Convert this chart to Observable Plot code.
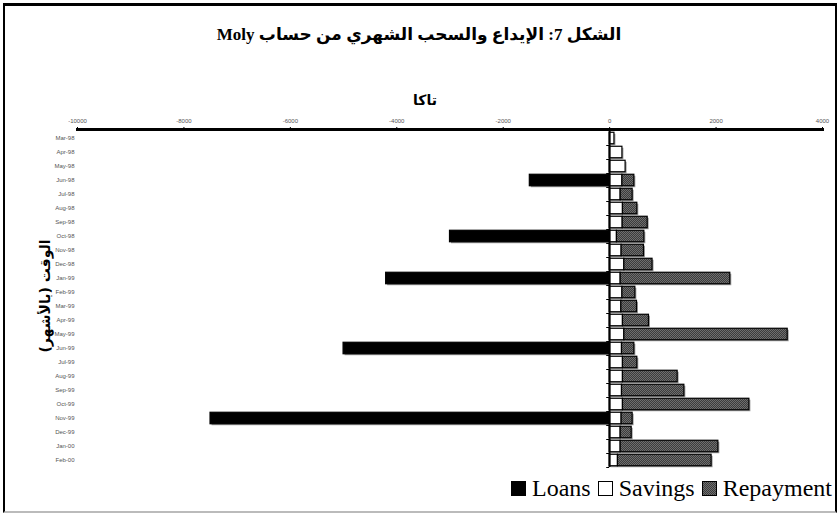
<!DOCTYPE html>
<html><head><meta charset="utf-8">
<script src="https://cdn.jsdelivr.net/npm/d3@7"></script>
<script src="https://cdn.jsdelivr.net/npm/@observablehq/plot@0.6"></script>
<style>
body{margin:0;background:#fff;}
#wrap{position:relative;width:838px;height:513px;overflow:hidden;background:#fff;}
#border{position:absolute;left:3px;top:3px;width:830px;height:505px;border:2px solid #000;border-top:3px solid #000;border-bottom:2px solid #bbb;box-sizing:content-box;}
#title{position:absolute;left:0;width:838px;top:24px;text-align:center;font:bold 17px "Liberation Serif","DejaVu Sans",serif;color:#000;}
#xlab{position:absolute;left:0;width:850px;top:92px;text-align:center;font:bold 14px "DejaVu Sans",sans-serif;color:#000;}
#ylab{position:absolute;left:45px;top:296px;transform:translate(-50%,-50%) rotate(-90deg);white-space:nowrap;font:bold 14px "DejaVu Sans",sans-serif;color:#000;}
#legend{position:absolute;right:6px;top:475px;font:24px "Liberation Serif",serif;color:#000;white-space:nowrap;}
#legend span.sw{display:inline-block;width:15px;height:15px;border:1px solid #000;box-sizing:border-box;vertical-align:0px;margin-right:6px;margin-left:7px;}
#chart{position:absolute;left:0;top:0;}
</style></head><body>
<div id="wrap">
  <div id="chart"></div>
  <div id="border"></div>
  <div id="title" dir="rtl">الشكل 7: الإيداع والسحب الشهري من حساب Moly</div>
  <div id="xlab" dir="rtl">تاكا</div>
  <div id="ylab" dir="rtl">الوقت (بالأشهر)</div>
  <div id="legend"></div>
</div>
<script>
const months = ["Mar-98","Apr-98","May-98","Jun-98","Jul-98","Aug-98","Sep-98","Oct-98","Nov-98","Dec-98","Jan-99","Feb-99",
  "Mar-99","Apr-99","May-99","Jun-99","Jul-99","Aug-99","Sep-99","Oct-99","Nov-99","Dec-99","Jan-00","Feb-00"];
const loans = [0,0,0,-1500,0,0,0,-3000,0,0,-4200,0,0,0,0,-5000,0,0,0,0,-7500,0,0,0];
const savings = [90,240,300,240,207,250,245,137,225,276,207,240,220,250,276,232,250,250,232,250,225,207,207,156];
const repayment = [0,0,0,224,225,270,470,515,420,530,2060,243,294,489,3070,232,270,1028,1172,2376,207,207,1836,1760];
const xTicks = [-10000,-8000,-6000,-4000,-2000,0,2000,4000];
const seriesNames = ["Loans","Savings","Repayment"];
const seriesFills = ["#000000","#ffffff","url(#repPat)"];

const data = [];
months.forEach((m,i)=>{
  if (savings[i]) data.push({month:m, series:"Savings", value:savings[i]});
  if (repayment[i]) data.push({month:m, series:"Repayment", value:repayment[i]});
  if (loans[i]) data.push({month:m, series:"Loans", value:loans[i]});
});

const chart = Plot.plot({
  width: 838,
  height: 513,
  marginLeft: 77,
  marginRight: 16,
  marginTop: 129,
  marginBottom: 46,
  style: {background:"transparent"},
  x: {domain:[-10000,4000], axis:null},
  y: {domain: months, paddingInner:0.18, paddingOuter:0.09, insetTop:2, round:false, axis:null},
  color: {domain: seriesNames, range: seriesFills},
  marks: [
    Plot.barX(data, {x:"value", y:"month", fill:"#9a9a9a", dx:1.5, dy:1.5}),
    Plot.barX(data, {x:"value", y:"month", fill:"series", stroke:"#000", strokeWidth:1.2}),
    Plot.ruleX([0], {stroke:"#000", strokeWidth:2}),
    Plot.ruleY(months, {y:d=>d, x1:-55, x2:0, dy:7, stroke:"#000", strokeWidth:1}),
    Plot.frame({anchor:"top", stroke:"#000", strokeWidth:3}),
    Plot.axisX({anchor:"top", ticks:xTicks, tickFormat:d=>String(d), tickSize:3, tickPadding:4, fontSize:6, fill:"#555", stroke:"#000", label:null}),
    Plot.axisY({anchor:"left", tickSize:0, tickPadding:3, fontSize:6, fill:"#555", label:null})
  ]
});
const svg = chart;
const ns = "http://www.w3.org/2000/svg";
const defs = document.createElementNS(ns,"defs");
defs.innerHTML = '<pattern id="repPat" width="2" height="2" patternUnits="userSpaceOnUse"><rect width="2" height="2" fill="#3c3c3c"/><rect width="1" height="1" fill="#6e6e6e"/><rect x="1" y="1" width="1" height="1" fill="#6e6e6e"/></pattern>';
svg.insertBefore(defs, svg.firstChild);
svg.querySelectorAll("text").forEach(t=>t.setAttribute("font-family","Liberation Sans, Arial, sans-serif"));
document.getElementById("chart").appendChild(svg);

const legend = document.getElementById("legend");
const legendFills = ["#000","#fff","repeating-conic-gradient(#3c3c3c 0 25%,#6e6e6e 0 50%) 0 0/2px 2px"];
seriesNames.forEach((s,i)=>{
  const sw = document.createElement("span");
  sw.className = "sw";
  sw.style.background = legendFills[i];
  legend.appendChild(sw);
  legend.appendChild(document.createTextNode(s));
});
</script>
</body></html>
